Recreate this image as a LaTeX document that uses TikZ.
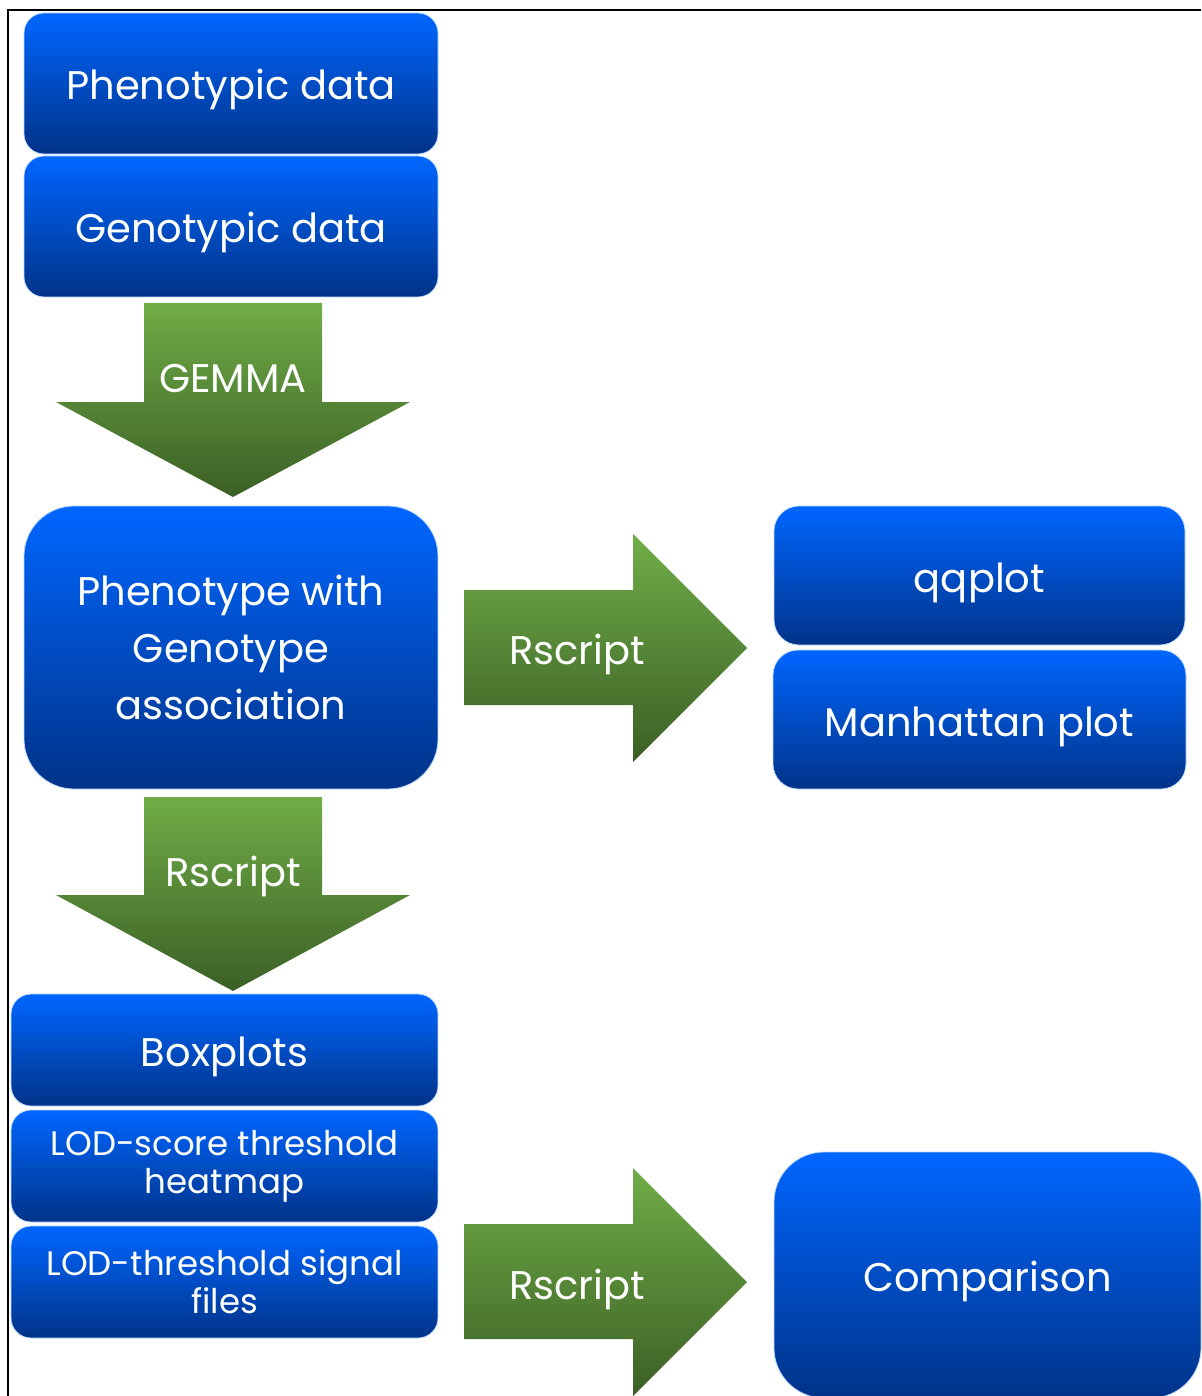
\documentclass[tikz,border=0pt]{standalone}
\usepackage{fontspec}
\setmainfont{Poppins}
\definecolor{bluetop}{HTML}{0066FF}
\definecolor{bluebot}{HTML}{003388}
\definecolor{greentop}{HTML}{70AD47}
\definecolor{greenbot}{HTML}{3B5F25}
\begin{document}
\begin{tikzpicture}[x=1pt,y=-1pt,
  box/.style={rounded corners=20pt, top color=bluetop, bottom color=bluebot,
    draw=white!75!bluetop, line width=0.8pt, text=white, align=center, inner sep=0pt,
    font=\fontsize{40}{57}\selectfont},
  onebox/.style={box, text height=33pt, text depth=0pt},
  bigbox/.style={box, rounded corners=50pt},
  lodbox/.style={box, font=\fontsize{34}{38}\selectfont},
  blockarrow/.style={top color=greentop, bottom color=greenbot, draw=none},
  arrowlabel/.style={text=white, inner sep=0pt, font=\fontsize{40}{48}\selectfont}]
\useasboundingbox (0,0) rectangle (1201,1396);
\fill[white] (0,0) rectangle (1201,1396);
\draw[line width=2pt] (8,1396) -- (8,10) -- (1201,10);

% boxes
\node[onebox, minimum width=414pt, minimum height=141pt] (pheno) at (231,83.5) {Phenotypic data};
\node[onebox, minimum width=414pt, minimum height=141pt] (geno) at (231,226.5) {Genotypic data};
\node[bigbox, minimum width=414pt, minimum height=283pt] (assoc) at (231,647.5) {Phenotype with\\Genotype\\association};
\node[onebox, rounded corners=25pt, minimum width=411pt, minimum height=139pt] (qq) at (979.5,575.5) {qqplot};
\node[onebox, rounded corners=25pt, minimum width=413pt, minimum height=139pt] (manh) at (979.5,719.5) {Manhattan plot};
\node[onebox, minimum width=427pt, minimum height=112pt] (boxp) at (224.5,1050) {Boxplots};
\node[lodbox, minimum width=427pt, minimum height=112pt] (heat) at (224.5,1166) {LOD-score threshold\\heatmap};
\node[lodbox, minimum width=427pt, minimum height=112pt] (sig) at (224.5,1282) {LOD-threshold signal\\files};
\node[bigbox, text height=33pt, text depth=0pt, minimum width=427pt, minimum height=246pt] (comp) at (987.5,1275) {Comparison};

% block arrows
\shade[blockarrow] (144,303) -- (322,303) -- (322,402) -- (410,402) -- (233,497) -- (56,402) -- (144,402) -- cycle;
\node[arrowlabel] (gemma) at (233,379) {GEMMA};

\shade[blockarrow] (144,797) -- (322,797) -- (322,895) -- (410,895) -- (233,991) -- (56,895) -- (144,895) -- cycle;
\node[arrowlabel] (rs1) at (233,876) {Rscript};

\shade[blockarrow] (464,590) -- (633,590) -- (633,534) -- (747,648) -- (633,762) -- (633,705) -- (464,705) -- cycle;
\node[arrowlabel] (rs2) at (577,654) {Rscript};

\shade[blockarrow] (464,1224) -- (633,1224) -- (633,1168) -- (747,1282) -- (633,1396) -- (633,1339) -- (464,1339) -- cycle;
\node[arrowlabel] (rs3) at (577,1289) {Rscript};
\end{tikzpicture}
\end{document}
